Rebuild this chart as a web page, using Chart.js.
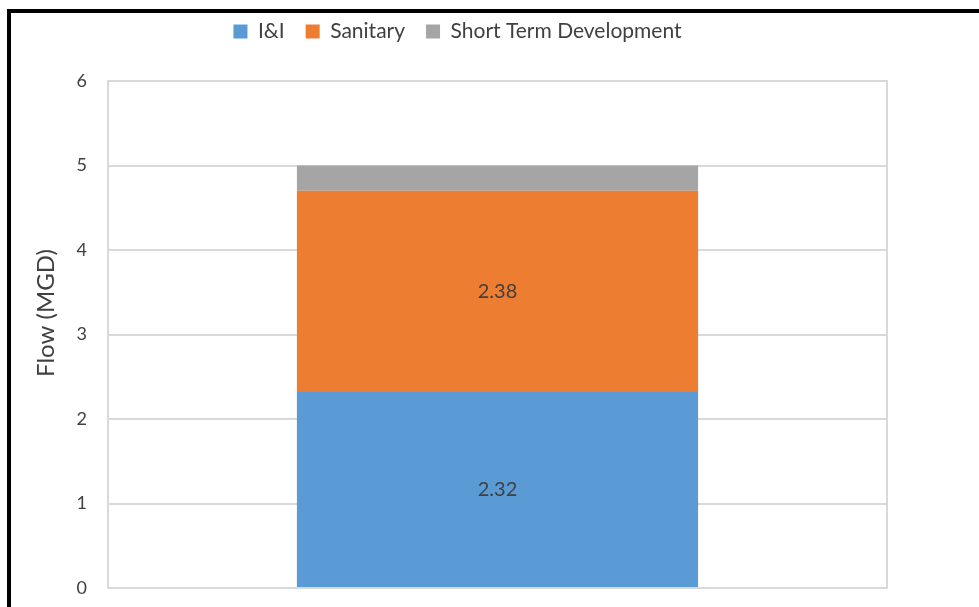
<!DOCTYPE html>
<html>
<head>
<meta charset="utf-8">
<script src="https://cdn.jsdelivr.net/npm/chart.js@4/dist/chart.umd.min.js"></script>
<style>
  body { margin: 0; background: #fff; overflow: hidden; }
  #wrap { position: relative; width: 979px; height: 607px; }
  #flowChart { position: absolute; left: 0; top: 0; }
  /* black frame around the figure, runs off the right and bottom edges */
  #frame {
    position: absolute; left: 7px; top: 9px; width: 1000px; height: 700px;
    border-left: 4px solid #000; border-top: 4px solid #000; pointer-events: none;
  }
</style>
</head>
<body>
<div id="wrap">
  <canvas id="flowChart" width="979" height="607"></canvas>
  <div id="frame"></div>
</div>
<script>
// flow components (MGD)
var categories = ['Flow'];
var seriesNames = ['I&I', 'Sanitary', 'Short Term Development'];
var iiFlow = [2.32];
var sanitaryFlow = [2.38];
var shortTermFlow = [0.30];
var yTicks = [0, 1, 2, 3, 4, 5, 6];

var seriesColors = ['#5b9bd5', '#ed7d31', '#a5a5a5'];
var textColor = '#404040';
var gridColor = '#d9d9d9';

// writes the value in the middle of the labelled segments
var valueLabels = {
    id: 'valueLabels',
    afterDatasetsDraw: function(chart){
        var ctx = chart.ctx;
        ctx.save();
        ctx.font = '20px Lato';
        ctx.fillStyle = textColor;
        ctx.textAlign = 'center';
        ctx.textBaseline = 'middle';
        chart.data.datasets.forEach(function(ds, i){
            if (!ds.showValue) return;
            chart.getDatasetMeta(i).data.forEach(function(bar, j){
                var c = bar.getCenterPoint();
                ctx.fillText(ds.data[j].toFixed(2), c.x, c.y);
            });
        });
        ctx.restore();
    }
};

var ctx = document.getElementById('flowChart').getContext('2d');

var flowChart = new Chart(ctx, {
    type: 'bar',
    data: {
        labels: categories,
        datasets: [
            { label: seriesNames[0], data: iiFlow, backgroundColor: seriesColors[0], showValue: true },
            { label: seriesNames[1], data: sanitaryFlow, backgroundColor: seriesColors[1], showValue: true },
            { label: seriesNames[2], data: shortTermFlow, backgroundColor: seriesColors[2], showValue: false }
        ]
    },
    options: {
        responsive: false,
        animation: false,
        devicePixelRatio: 1,
        categoryPercentage: 0.515,
        barPercentage: 1,
        layout: { padding: { left: 28, right: 92, top: 0, bottom: 19 } },
        plugins: {
            legend: {
                position: 'top',
                weight: 1000,
                labels: {
                    boxWidth: 14,
                    boxHeight: 14,
                    padding: 21,
                    color: textColor,
                    font: { family: 'Lato', size: 21 }
                }
            },
            // empty title keeps a gap between legend and plot
            title: {
                display: true,
                text: '',
                weight: 500,
                font: { size: 10 },
                padding: { top: 0, bottom: 17 }
            },
            tooltip: { enabled: false }
        },
        scales: {
            x: {
                stacked: true,
                display: false
            },
            y: {
                stacked: true,
                min: yTicks[0],
                max: yTicks[yTicks.length - 1],
                afterBuildTicks: function(scale){
                    scale.ticks = yTicks.map(function(v){ return { value: v }; });
                },
                afterFit: function(scale){
                    scale.width = 80;
                    // tick padding is horizontal only here
                    scale.paddingTop = 10;
                    scale.paddingBottom = 10;
                },
                title: {
                    display: true,
                    text: '       Flow (MGD)',
                    color: textColor,
                    font: { family: 'Lato', size: 24 }
                },
                ticks: {
                    padding: 21,
                    color: textColor,
                    font: { family: 'Lato', size: 18 }
                },
                grid: { color: gridColor, lineWidth: 2, drawTicks: false },
                border: { display: true, color: gridColor, width: 2 }
            },
            yRight: {
                position: 'right',
                min: yTicks[0],
                max: yTicks[yTicks.length - 1],
                ticks: { display: false },
                grid: { display: false, drawTicks: false },
                border: { display: true, color: gridColor, width: 2 },
                afterFit: function(scale){
                    scale.paddingTop = 0;
                    scale.paddingBottom = 0;
                }
            }
        }
    },
    plugins: [valueLabels]
});
</script>
</body>
</html>
